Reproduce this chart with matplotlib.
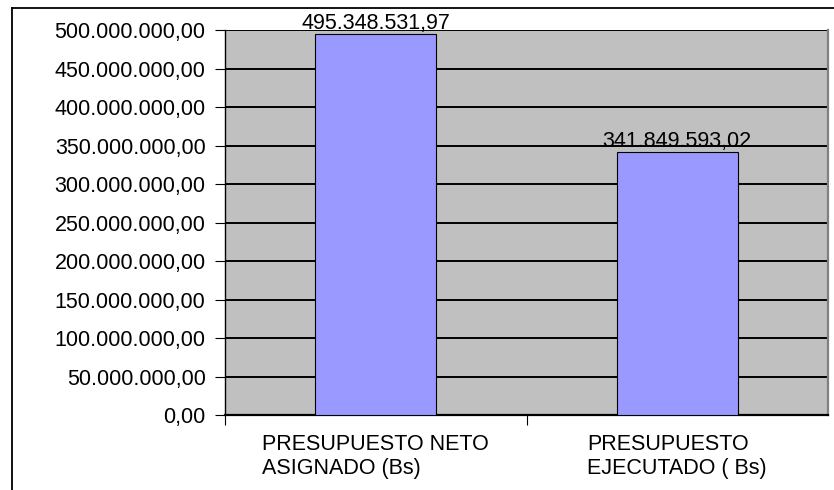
import matplotlib
matplotlib.use("Agg")
import matplotlib.pyplot as plt
from matplotlib.lines import Line2D
from matplotlib.ticker import FuncFormatter, FixedLocator

plt.rcParams["font.family"] = ["Liberation Sans", "DejaVu Sans"]

categories = ["PRESUPUESTO NETO\nASIGNADO (Bs)", "PRESUPUESTO\nEJECUTADO ( Bs)"]
values = [495348531.97, 341849593.02]
yticks = [0, 50e6, 100e6, 150e6, 200e6, 250e6, 300e6, 350e6, 400e6, 450e6, 500e6]

FS = 15.5


def fmt_es(v, _=None):
    s = f"{v:,.2f}"
    return s.replace(",", "X").replace(".", ",").replace("X", ".")


fig = plt.figure(figsize=(8.34, 4.90), dpi=100)
ax = fig.add_axes([225 / 834, 1 - 415 / 490, 603 / 834, 385 / 490])
ax.set_facecolor("#C0C0C0")

x = list(range(len(categories)))
ax.bar(x, values, width=0.4, color="#9999FF", edgecolor="black", linewidth=0.8, zorder=3)

for xi, v in zip(x, values):
    ax.text(xi, v, fmt_es(v), ha="center", va="bottom", fontsize=FS, zorder=4)

ax.set_xlim(-0.5, 1.5)
ax.set_ylim(0, 500e6)
ax.set_yticks(yticks)
ax.yaxis.set_major_formatter(FuncFormatter(fmt_es))
ax.yaxis.grid(True, color="black", linewidth=1.4, zorder=1)
ax.set_axisbelow(True)

ax.set_xticks(x)
ax.set_xticklabels(categories, fontsize=FS, multialignment="left", linespacing=1.15)
ax.xaxis.set_minor_locator(FixedLocator([-0.5, 0.5]))
ax.tick_params(axis="x", which="major", length=0, pad=14)
ax.tick_params(axis="x", which="minor", length=7, width=0.8, direction="out")
ax.tick_params(axis="y", length=7, width=0.8, direction="out", labelsize=FS, pad=7)

ax.spines["top"].set_visible(False)
ax.spines["left"].set_color("black")
ax.spines["left"].set_linewidth(1.0)
ax.spines["bottom"].set_color("black")
ax.spines["bottom"].set_linewidth(1.6)
ax.spines["right"].set_color("#808080")
ax.spines["right"].set_linewidth(1.6)

# outer chart frame (top and left edges visible)
fig.add_artist(Line2D([12 / 834, 1], [1 - 8 / 490, 1 - 8 / 490], color="black", linewidth=1.3,
                      transform=fig.transFigure))
fig.add_artist(Line2D([12 / 834, 12 / 834], [0, 1 - 8 / 490], color="black", linewidth=1.3,
                      transform=fig.transFigure))

fig.savefig("out.png", dpi=100)
